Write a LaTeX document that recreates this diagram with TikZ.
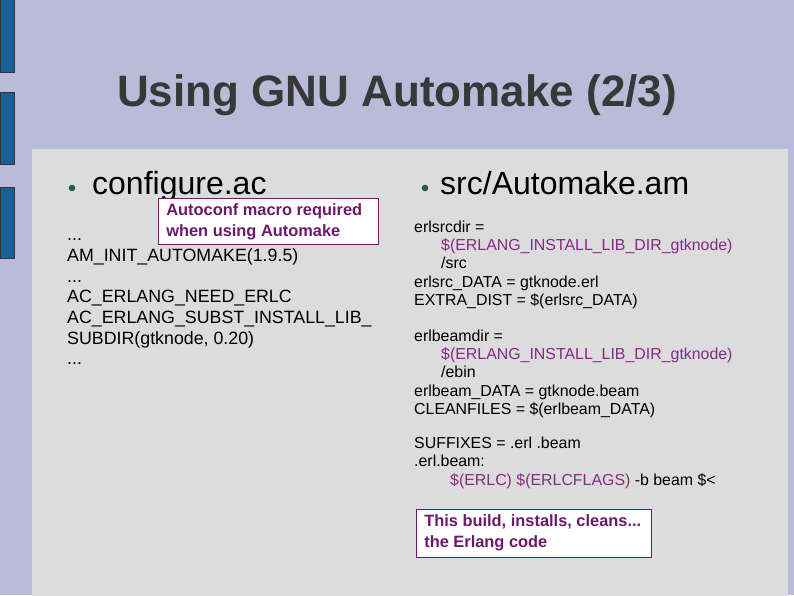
\documentclass[tikz,border=0pt]{standalone}
\usepackage{fontspec}
\setmainfont{Liberation Sans}
\definecolor{bgc}{HTML}{B8BCD8}
\definecolor{panel}{HTML}{DCDCDC}
\definecolor{barc}{HTML}{1A5F96}
\definecolor{bullc}{HTML}{1E5E50}
\definecolor{purp}{HTML}{862A86}
\definecolor{boxt}{HTML}{6B1A6B}
\begin{document}
\begin{tikzpicture}[x=1pt,y=-1pt,
  bar/.style={fill=barc,draw=black!80,line width=0.8pt},
  bodyL/.style={anchor=base west,inner sep=0,font=\fontsize{17.8}{20}\selectfont},
  bodyR/.style={anchor=base west,inner sep=0,font=\fontsize{15.9}{18}\selectfont},
  head/.style={anchor=base west,inner sep=0,font=\fontsize{32}{36}\selectfont},
  note/.style={draw=boxt,fill=white,line width=0.6pt,text=boxt,font=\bfseries\fontsize{16.4}{21}\selectfont,align=left,anchor=north west,inner sep=0pt}]
\useasboundingbox (0,0) rectangle (794,595);
\fill[bgc] (0,0) rectangle (794,595);
\draw[bar] (0,-2) rectangle (14,72);
\draw[bar] (0,92) rectangle (14,164);
\draw[bar] (0,187) rectangle (14,258);
\fill[panel] (32,149) rectangle (788,597);
\node[font=\bfseries\fontsize{44}{50}\selectfont,text=black!78] (title) at (397,95) {Using GNU Automake (2/3)};
% left column
\fill[bullc] (72,188) circle (3.3);
\node[head] (h1) at (92,194) {configure.ac};
\node[bodyL] (l1) at (67,240) {...};
\node[bodyL] (l2) at (67,261) {AM\_INIT\_AUTOMAKE(1.9.5)};
\node[bodyL] (l3) at (67,282) {...};
\node[bodyL] (l4) at (67,302) {AC\_ERLANG\_NEED\_ERLC};
\node[bodyL] (l5) at (67,323) {AC\_ERLANG\_SUBST\_INSTALL\_LIB\_};
\node[bodyL] (l6) at (67,344) {SUBDIR(gtknode, 0.20)};
\node[bodyL] (l7) at (67,364) {...};
\node[note,minimum width=220pt,minimum height=46pt] (n1) at (158,198) {};
\node[note,draw=none,fill=none] (n1t) at (166,203) {Autoconf macro required\\when using Automake};
% right column
\fill[bullc] (425,188) circle (3.3);
\node[head] (h2) at (440,194) {src/Automake.am};
\node[bodyR] (r1) at (414,232) {erlsrcdir =};
\node[bodyR,text=purp] (r2) at (441,250) {\$(ERLANG\_INSTALL\_LIB\_DIR\_gtknode)};
\node[bodyR] (r3) at (441,268.5) {/src};
\node[bodyR] (r4) at (414,287) {erlsrc\_DATA = gtknode.erl};
\node[bodyR] (r5) at (414,305) {EXTRA\_DIST = \$(erlsrc\_DATA)};
\node[bodyR] (r6) at (414,341) {erlbeamdir =};
\node[bodyR,text=purp] (r7) at (441,359) {\$(ERLANG\_INSTALL\_LIB\_DIR\_gtknode)};
\node[bodyR] (r8) at (441,377.5) {/ebin};
\node[bodyR] (r9) at (414,396) {erlbeam\_DATA = gtknode.beam};
\node[bodyR] (r10) at (414,414) {CLEANFILES = \$(erlbeam\_DATA)};
\node[bodyR] (r11) at (414,448) {SUFFIXES = .erl .beam};
\node[bodyR] (r12) at (414,466) {.erl.beam:};
\node[bodyR] (r13) at (450,485) {\textcolor{purp}{\$(ERLC) \$(ERLCFLAGS)} -b beam \$<};
\node[note,minimum width=235pt,minimum height=48pt] (n2) at (416,509) {};
\node[note,draw=none,fill=none] (n2t) at (424,514) {This build, installs, cleans...\\the Erlang code};
\end{tikzpicture}
\end{document}
